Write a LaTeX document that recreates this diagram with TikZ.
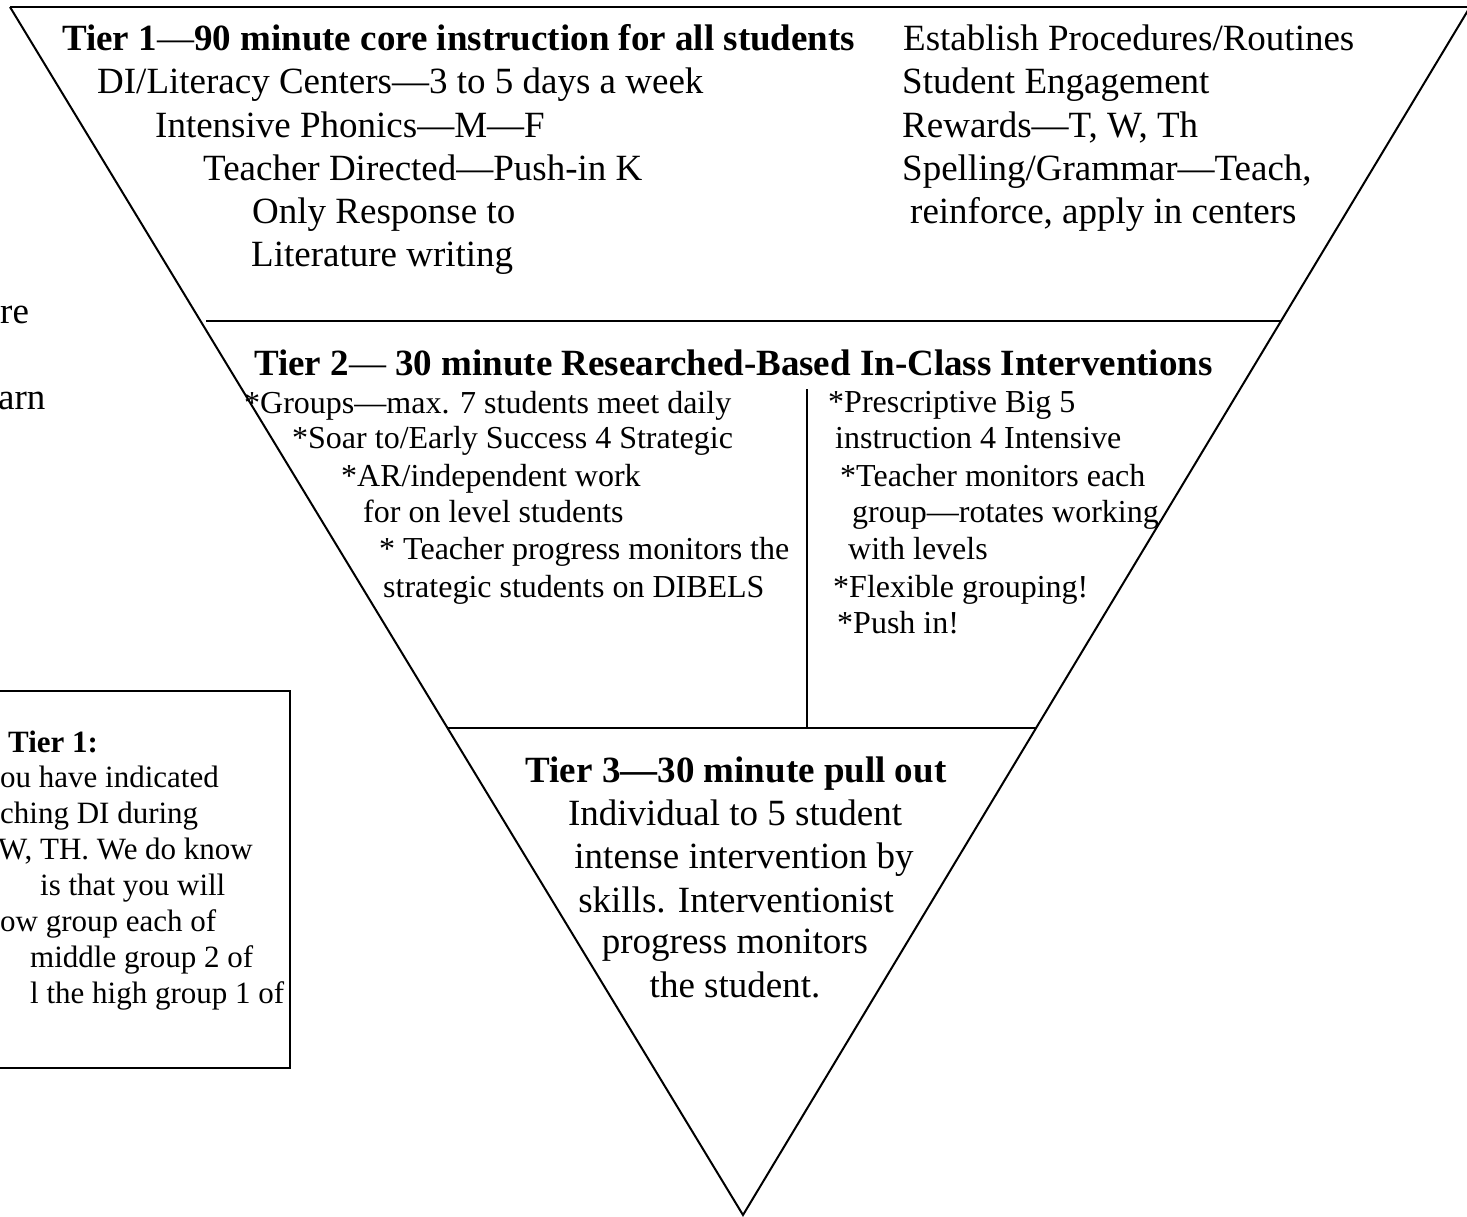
\documentclass[tikz,border=0pt]{standalone}
\usepackage{fontspec}
\setmainfont{Liberation Serif}
\begin{document}
\begin{tikzpicture}[x=1pt,y=-1pt,
  edge/.style={line width=2pt,black},
  topedge/.style={line width=2.6pt,black},
  boxline/.style={line width=2.4pt,black},
  big/.style={inner sep=0pt,anchor=base west,font=\fontsize{37}{43}\selectfont},
  bigc/.style={inner sep=0pt,anchor=base,font=\fontsize{37}{43}\selectfont},
  mid/.style={inner sep=0pt,anchor=base west,font=\fontsize{32}{37}\selectfont},
  sml/.style={inner sep=0pt,anchor=base west,font=\fontsize{31}{36}\selectfont}]
\useasboundingbox (0,0) rectangle (1467,1216);
\clip (0,0) rectangle (1467,1216);
% triangle
\coordinate (TL) at (10,7);
\coordinate (TR) at (1470,7);
\coordinate (AP) at (743,1215);
\draw[topedge] (TL) -- (TR);
\draw[edge] (TL) -- (AP) -- (TR);
% dividers
\coordinate (d2l) at (206,321);
\coordinate (d2r) at (1282,321);
\draw[edge] (d2l) -- (d2r);
\coordinate (d3l) at (448,728);
\coordinate (d3r) at (1037,728);
\draw[edge] (d3l) -- (d3r);
\coordinate (vt) at (807,389);
\coordinate (vb) at (807,727);
\draw[edge] (vt) -- (vb);
% Tier 1
\node[big] (t1h) at (62,50) {\bfseries Tier 1\mdseries—\bfseries 90 minute core instruction for all students};
\node[big] (t1a) at (97,93) {DI/Literacy Centers—3 to 5 days a week};
\node[big] (t1b) at (155,137) {Intensive Phonics—M—F};
\node[big] (t1c) at (203,180) {Teacher Directed—Push-in K};
\node[big] (t1d) at (252,223) {Only Response to};
\node[big] (t1e) at (251,266) {Literature writing};
\node[big] (t1f) at (903,50) {Establish Procedures/Routines};
\node[big] (t1g) at (902,93) {Student Engagement};
\node[big] (t1i) at (902,137) {Rewards—T, W, Th};
\node[big] (t1j) at (902,180) {Spelling/Grammar—Teach,};
\node[big] (t1k) at (910,223) {reinforce, apply in centers};
% left fragments
\node[big] (fa) at (0,323) {re};
\node[big] (fb) at (-2,409) {arn};
% Tier 2
\node[big] (t2h) at (254,375) {\bfseries Tier 2\mdseries— \bfseries 30 minute Researched-Based In-Class Interventions};
\node[mid] (t2a) at (244,413) {*Groups—max. 7 students meet daily};
\node[mid] (t2b) at (292,448) {*Soar to/Early Success 4 Strategic};
\node[mid] (t2c) at (341,486) {*AR/independent work};
\node[mid] (t2d) at (363,522) {for on level students};
\node[mid] (t2e) at (379,559) {* Teacher progress monitors the};
\node[mid] (t2f) at (383,597) {strategic students on DIBELS};
\node[mid] (t2g) at (828,412) {*Prescriptive Big 5};
\node[mid] (t2i) at (835,448) {instruction 4 Intensive};
\node[mid] (t2j) at (840,486) {*Teacher monitors each};
\node[mid] (t2k) at (852,522) {group—rotates working};
\node[mid] (t2l) at (848,559) {with levels};
\node[mid] (t2m) at (833,597) {*Flexible grouping!};
\node[mid] (t2n) at (837,633) {*Push in!};
% Tier 3
\node[bigc] (t3h) at (736,782) {\bfseries Tier 3—30 minute pull out};
\node[bigc] (t3a) at (735,825) {Individual to 5 student};
\node[bigc] (t3b) at (744,868) {intense intervention by};
\node[bigc] (t3c) at (736,912) {skills. Interventionist};
\node[bigc] (t3d) at (735,953) {progress monitors};
\node[bigc] (t3e) at (735,997) {the student.};
% side box
\coordinate (bxa) at (-10,691);
\coordinate (bxb) at (290,1068);
\draw[boxline] (bxa) rectangle (bxb);
\node[sml] (b1) at (8,752) {\bfseries Tier 1:};
\node[sml] (b2) at (0,787) {ou have indicated};
\node[sml] (b3) at (0,823) {ching DI during};
\node[sml] (b4) at (-2,859) {W, TH. We do know};
\node[sml] (b5) at (40,895) {is that you will};
\node[sml] (b6) at (0,931) {ow group each of};
\node[sml] (b7) at (30,967) {middle group 2 of};
\node[sml] (b8) at (30,1003) {l the high group 1 of};
\end{tikzpicture}
\end{document}
